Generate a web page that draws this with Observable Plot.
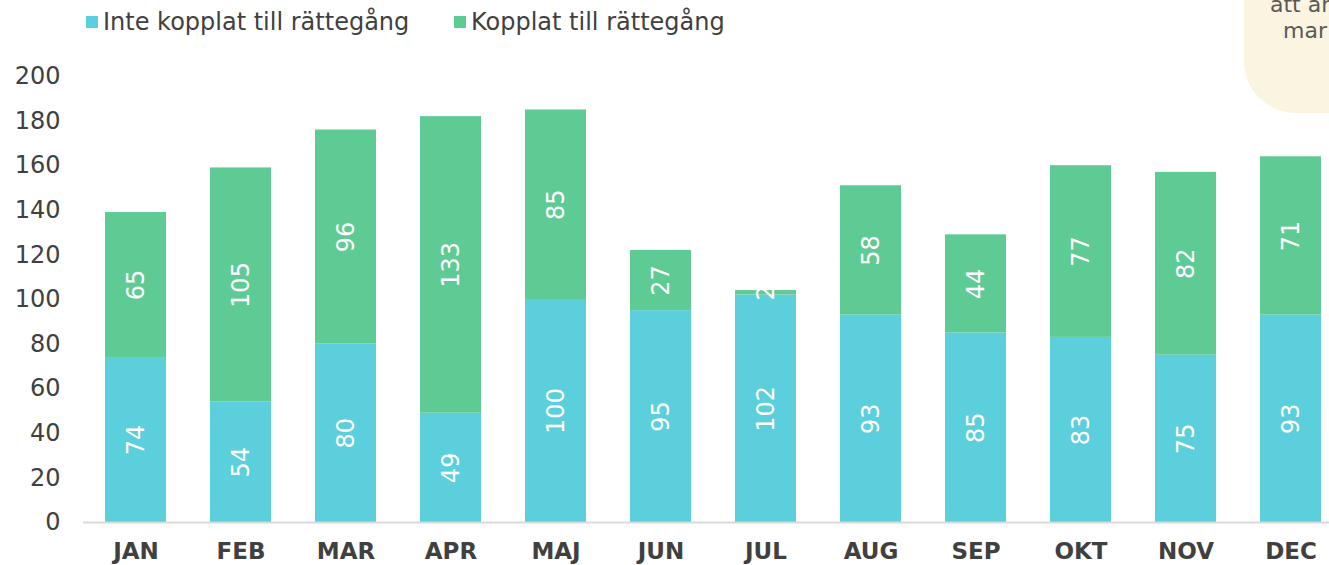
<!DOCTYPE html>
<html>
<head>
<meta charset="utf-8">
<script src="https://cdn.jsdelivr.net/npm/d3@7"></script>
<script src="https://cdn.jsdelivr.net/npm/@observablehq/plot@0.6"></script>
<style>
  html, body { margin: 0; padding: 0; background: #fff; overflow: hidden; width: 1329px; height: 565px; }
  body { position: relative; font-family: "DejaVu Sans", Verdana, sans-serif; }
  #legend { height: 48px; position: relative; font-size: 24px; color: #404040; }
  .lg { position: absolute; top: 8px; white-space: nowrap; }
  .sw { display: inline-block; width: 12px; height: 12px; margin-right: 5px; vertical-align: 2px; }
  #note { position: absolute; left: 1244px; top: -80px; width: 200px; height: 193px; background: #FBF4E1; border-radius: 52px; overflow: hidden; }
  .nt { position: absolute; font-size: 22px; color: #595959; white-space: nowrap; }
  #chart svg { display: block; overflow: visible; }
</style>
</head>
<body>
<div id="legend"></div>
<div id="note"><span class="nt" style="left:26px;top:72px">att an</span><span class="nt" style="left:39px;top:98px">mar</span></div>
<div id="chart"></div>
<script>
const months = ["JAN","FEB","MAR","APR","MAJ","JUN","JUL","AUG","SEP","OKT","NOV","DEC"];
const seriesNames = ["Inte kopplat till rättegång", "Kopplat till rättegång"];
const inteKopplat = [74, 54, 80, 49, 100, 95, 102, 93, 85, 83, 75, 93];
const kopplat = [65, 105, 96, 133, 85, 27, 2, 58, 44, 77, 82, 71];
const colors = ["#5BCFDC", "#5FCB94"];
const yTicks = [0, 20, 40, 60, 80, 100, 120, 140, 160, 180, 200];

const data = [];
months.forEach((m, i) => {
  data.push({month: m, series: seriesNames[0], value: inteKopplat[i]});
  data.push({month: m, series: seriesNames[1], value: kopplat[i]});
});

// legend
const legend = document.getElementById("legend");
const lgX = [86, 454];
seriesNames.forEach((s, i) => {
  const d = document.createElement("div");
  d.className = "lg";
  d.style.left = lgX[i] + "px";
  d.innerHTML = `<span class="sw" style="background:${colors[i]}"></span>${s}`;
  legend.appendChild(d);
});

const chart = Plot.plot({
  width: 1329,
  height: 517,
  marginTop: 28,
  marginBottom: 43,
  marginLeft: 83,
  marginRight: 0,
  style: {fontFamily: "'DejaVu Sans', Verdana, sans-serif", fontSize: "24px", color: "#404040", background: "transparent"},
  x: {domain: months, range: [83, 1343], paddingInner: 0.42, paddingOuter: 0.21, label: null},
  y: {domain: [0, 200], label: null},
  color: {domain: seriesNames, range: colors},
  marks: [
    Plot.barY(data, Plot.stackY({x: "month", y: "value", z: "series", fill: "series", order: seriesNames})),
    Plot.ruleY([0], {stroke: "#D9D9D9", strokeWidth: 2}),
    Plot.text(data, Plot.stackY({x: "month", y: "value", z: "series", order: seriesNames, text: d => String(d.value), rotate: -90, fill: "white", fontSize: 24})),
    Plot.axisY({ticks: yTicks, tickSize: 0, tickPadding: 23, label: null, fontSize: 24}),
    Plot.axisX({tickSize: 0, tickPadding: 20, label: null, fontSize: 23, fontWeight: "bold"})
  ]
});
document.getElementById("chart").appendChild(chart);
</script>
</body>
</html>
